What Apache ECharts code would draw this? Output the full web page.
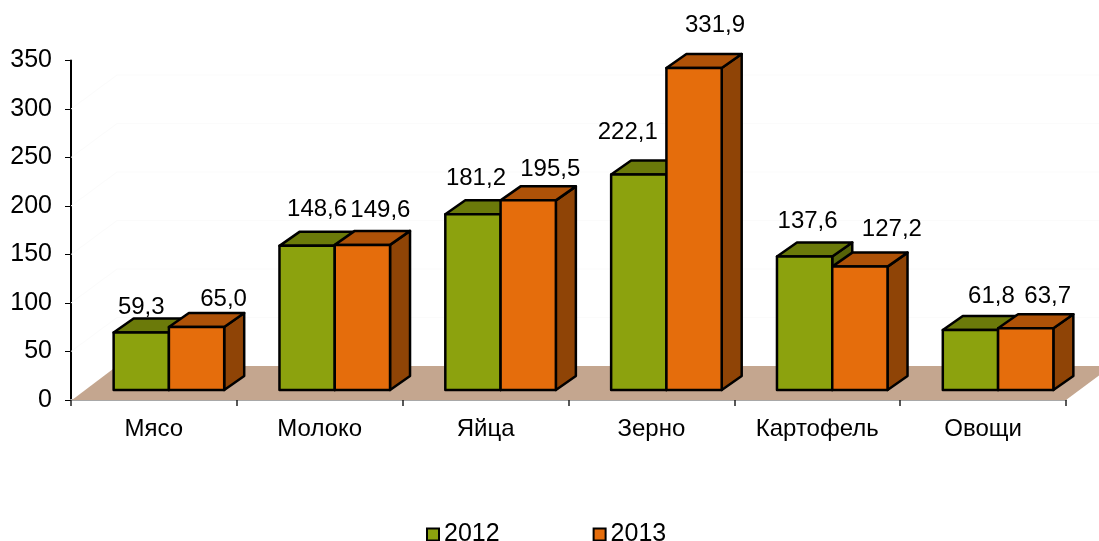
<!DOCTYPE html>
<html><head><meta charset="utf-8">
<style>html,body{margin:0;padding:0;background:#fff}#c{width:1099px;height:541px}</style>
<script src="https://cdn.jsdelivr.net/npm/echarts@6/dist/echarts.min.js"></script>
</head><body><div id="c"></div>
<script>
const categories = ['Мясо','Молоко','Яйца','Зерно','Картофель','Овощи'];
const values2012 = [59.3,148.6,181.2,222.1,137.6,61.8];
const values2013 = [65.0,149.6,195.5,331.9,127.2,63.7];
const yTicks = {min:0,max:350,interval:50};

// layout only: hand-placed data label nudges, relative to the bar's front top centre
const labelNudge2012 = [[0,-25],[10,-36],[3,-36],[-11,-42],[3,-35],[21,-34]];
const labelNudge2013 = [[27,-28],[18,-35],[22,-31],[21,-43],[32,-37],[22,-32]];
const FONT = '"Liberation Sans", Arial, sans-serif';
const colors2012 = {front:'#8ca20e', top:'#6b7a0a', side:'#566208'};
const colors2013 = {front:'#e56d0c', top:'#ae5208', side:'#8f4406'};
const DX=20, DY=-14, FRONT_LIFT=-10, SHIFT=15;
const FLOOR_DX=46, FLOOR_DY=-34;

function barSeries(name, vals, col, nudges, side){
  return {
    type:'custom', name, z:3,
    itemStyle:{color:col.front},
    encode:{x:0,y:1},
    data: vals.map((v,i)=>[i,v]),
    renderItem(params, api){
      const i=api.value(0), v=api.value(1);
      const top=api.coord([i,v]), base=api.coord([i,0]);
      const w=api.size([1,0])[0]/3;
      const x0=base[0]+SHIFT+(side===0?-w:0), x1=x0+w;
      const yt=top[1]+FRONT_LIFT, yb=base[1]+FRONT_LIFT;
      const st=c=>({fill:c,stroke:'#000',lineWidth:2.5,lineJoin:'round'});
      const n=nudges[i];
      return {type:'group',children:[
        {type:'polygon',shape:{points:[[x1,yt],[x1+DX,yt+DY],[x1+DX,yb+DY],[x1,yb]]},style:st(col.side)},
        {type:'polygon',shape:{points:[[x0,yt],[x0+DX,yt+DY],[x1+DX,yt+DY],[x1,yt]]},style:st(col.top)},
        {type:'rect',shape:{x:x0,y:yt,width:w,height:yb-yt},style:st(col.front)},
        {type:'text',z2:10,style:{text:v.toFixed(1).replace('.',','),
          x:(x0+x1)/2+n[0],y:yt+n[1],align:'center',verticalAlign:'middle',
          font:'24px '+FONT,fill:'#000'}}
      ]};
    }
  };
}
const floorSeries = {
  type:'custom', name:'floor', silent:true, z:1,
  encode:{x:0,y:1},
  data:[[0,0]],
  renderItem(params, api){
    const cs=params.coordSys;
    const x0=cs.x,x1=cs.x+cs.width,y0=cs.y+cs.height;
    const kids=[{type:'polygon',shape:{points:[[x0+1,y0],[x1,y0],[x1+FLOOR_DX,y0+FLOOR_DY],[x0+FLOOR_DX,y0+FLOOR_DY]]},
      style:{fill:'#c4a68f'}}];
    for(let t=yTicks.interval;t<yTicks.max;t+=yTicks.interval){
      const y=api.coord([0,t])[1];
      kids.push({type:'polyline',shape:{points:[[x0,y],[x0+FLOOR_DX,y+FLOOR_DY],[x1+FLOOR_DX,y+FLOOR_DY]]},
        style:{fill:null,stroke:'#fbfbfb',lineWidth:1}});
    }
    return {type:'group',children:kids};
  }
};
const chart=echarts.init(document.getElementById('c'),null,{renderer:'canvas'});
chart.setOption({
  animation:false,
  backgroundColor:'#fff',
  textStyle:{fontFamily:FONT},
  grid:{left:71,right:33,top:60.5,bottom:141},
  legend:{data:['2012','2013'],left:426,top:522,itemWidth:12,itemHeight:12,itemGap:93,
    icon:'rect',textStyle:{fontSize:25,color:'#000',fontFamily:FONT,padding:[0,0,0,0]},
    itemStyle:{borderColor:'#000',borderWidth:2},padding:0},
  xAxis:{type:'category',data:categories,
    axisLine:{lineStyle:{color:'#a8a8a8',width:2}},
    axisTick:{show:true,length:6,lineStyle:{color:'#222',width:1.5}},
    axisLabel:{color:'#000',fontSize:24,margin:17,fontFamily:FONT}},
  yAxis:{type:'value',min:yTicks.min,max:yTicks.max,interval:yTicks.interval,
    axisLine:{show:true,lineStyle:{color:'#000',width:2}},
    axisTick:{show:true,length:6,lineStyle:{color:'#000',width:1}},
    axisLabel:{color:'#000',fontSize:25,margin:19,padding:[4,0,0,0],fontFamily:FONT},
    splitLine:{show:false}},
  series:[floorSeries,
    barSeries('2012',values2012,colors2012,labelNudge2012,0),
    barSeries('2013',values2013,colors2013,labelNudge2013,1)]
});
</script></body></html>
